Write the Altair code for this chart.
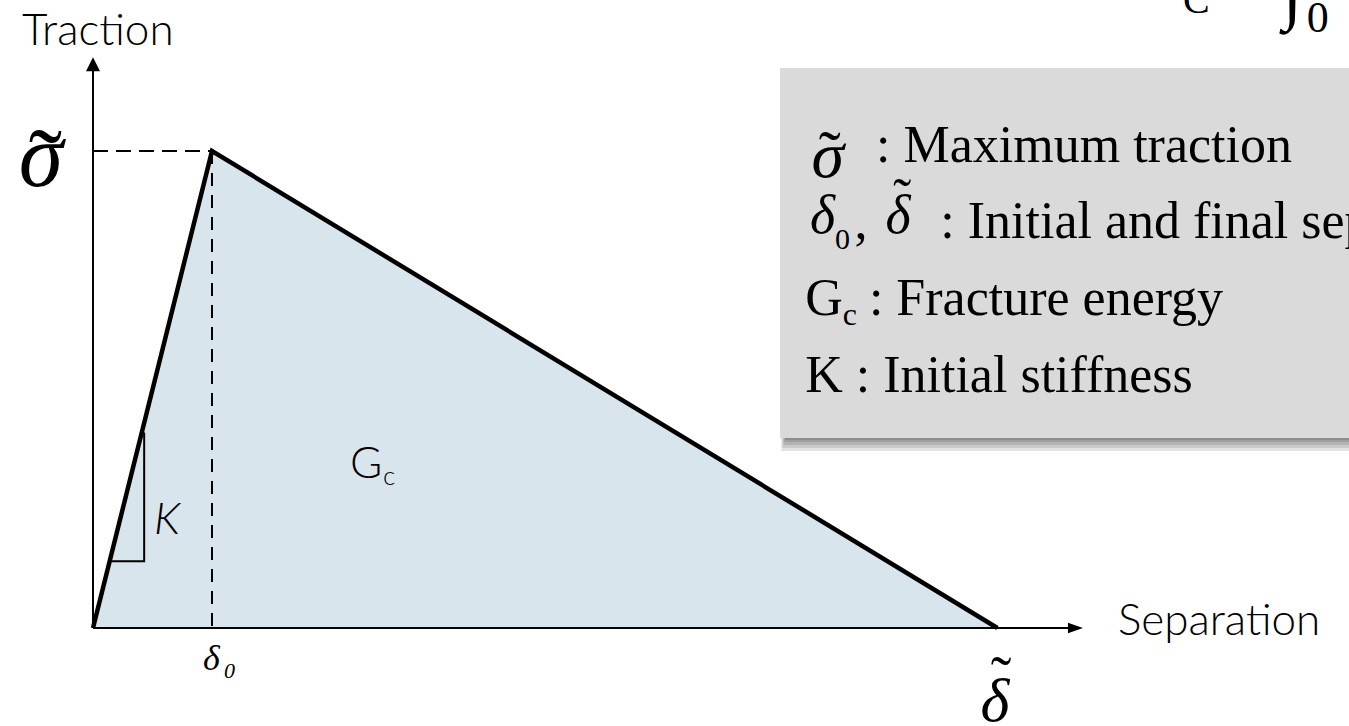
import altair as alt
import pandas as pd

# Bilinear cohesive (traction-separation) law, normalised units
DELTA_0 = 1.0        # separation at peak traction
DELTA_F = 7.6        # final separation
SIGMA_MAX = 1.0      # maximum traction

law_x = [0.0, DELTA_0, DELTA_F]
law_y = [0.0, SIGMA_MAX, 0.0]

# axis extents (arrow tips)
X_AXIS_END = 8.256
Y_AXIS_END = 1.182

# slope triangle marking the initial stiffness K
k_tri_x = [0.14, 0.43, 0.43]
k_tri_y = [0.14, 0.14, 0.41]

# legend entries
legend_lines = [
    ": Maximum traction",
    ": Initial and final separation",
    ": Fracture energy",
    "K : Initial stiffness",
]

X_DOMAIN = [-0.7815, 10.5546]
Y_DOMAIN = [-0.2055, 1.3166]

SERIF = "Liberation Serif"
SANS = "Lato"


def xq(field):
    return alt.X(field, type="quantitative",
                 scale=alt.Scale(domain=X_DOMAIN, nice=False, zero=False), axis=None)


def yq(field):
    return alt.Y(field, type="quantitative",
                 scale=alt.Scale(domain=Y_DOMAIN, nice=False, zero=False), axis=None)


def x2q(field):
    return alt.X2(field)


def y2q(field):
    return alt.Y2(field)


def text_layer(xs, ys, labels, size, font=SERIF, style="normal", align="left",
               dx=0, dy=0, weight="normal"):
    df = pd.DataFrame({"x": xs, "y": ys, "t": labels})
    return alt.Chart(df).mark_text(
        font=font, fontSize=size, fontStyle=style, align=align,
        baseline="alphabetic", dx=dx, dy=dy, fontWeight=weight, color="black"
    ).encode(x=xq("x"), y=yq("y"), text="t:N")


def rect_layer(x1, x2, y1, y2, color, opacity=1.0):
    df = pd.DataFrame({"x": [x1], "x2": [x2], "y": [y1], "y2": [y2]})
    return alt.Chart(df).mark_rect(color=color, opacity=opacity).encode(
        x=xq("x"), x2=x2q("x2"), y=yq("y"), y2=y2q("y2"))


law = pd.DataFrame({"x": law_x, "y": law_y, "o": [0, 1, 2]})

fill = alt.Chart(law).mark_area(color="#d9e5ec", opacity=1).encode(
    x=xq("x"), y=yq("y"), order="o:Q")

outline = alt.Chart(law).mark_line(color="black", strokeWidth=4.5, strokeJoin="miter").encode(
    x=xq("x"), y=yq("y"), order="o:Q")

# axes
axes_df = pd.DataFrame({
    "x": [0.0, 0.0], "x2": [X_AXIS_END, 0.0],
    "y": [0.0, 0.0], "y2": [0.0, Y_AXIS_END],
})
axes = alt.Chart(axes_df).mark_rule(color="black", strokeWidth=2).encode(
    x=xq("x"), x2=x2q("x2"), y=yq("y"), y2=y2q("y2"))

up_head = alt.Chart(pd.DataFrame({"x": [0.0], "y": [Y_AXIS_END]})).mark_point(
    shape="M0,-1L1,1L-1,1Z", size=196, filled=True, color="black", opacity=1, strokeWidth=0
).encode(x=xq("x"), y=yq("y"))

right_head = alt.Chart(pd.DataFrame({"x": [X_AXIS_END], "y": [0.0]})).mark_point(
    shape="M1,0L-1,0.7L-1,-0.7Z", size=225, filled=True, color="black", opacity=1, strokeWidth=0
).encode(x=xq("x"), y=yq("y"))

# dashed guides to the peak
dash_h = alt.Chart(pd.DataFrame({"x": [0.0], "x2": [DELTA_0], "y": [SIGMA_MAX]})).mark_rule(
    color="black", strokeWidth=2.2, strokeDash=[15, 8]
).encode(x=xq("x"), x2=x2q("x2"), y=yq("y"))

dash_v = alt.Chart(pd.DataFrame({"x": [DELTA_0], "y": [0.0], "y2": [SIGMA_MAX]})).mark_rule(
    color="black", strokeWidth=2, strokeDash=[13, 9]
).encode(x=xq("x"), y=yq("y2"), y2=y2q("y"))

k_df = pd.DataFrame({"x": k_tri_x, "y": k_tri_y, "o": [0, 1, 2]})
k_tri = alt.Chart(k_df).mark_line(color="black", strokeWidth=2).encode(
    x=xq("x"), y=yq("y"), order="o:Q")

# legend box with a soft drop shadow
BOX_X1, BOX_X2 = 5.773, X_DOMAIN[1]
BOX_TOP, BOX_BOTTOM = 1.174, 0.3983
shadows = [
    rect_layer(BOX_X1 + 0.05 - k * 0.003, BOX_X2, BOX_TOP - 0.01, BOX_BOTTOM - k * 0.0021, "#000000", 0.11)
    for k in (13, 10, 7, 4, 2)
]
box = rect_layer(BOX_X1, BOX_X2, BOX_TOP, BOX_BOTTOM, "#dadada")

layers = [fill, dash_v, dash_h, k_tri, outline, axes, up_head, right_head] + shadows + [box]

# axis titles
layers.append(text_layer([-0.597], [1.2222], ["Traction"], 44, font=SANS, weight=300))
layers.append(text_layer([8.613], [-0.0147], ["Separation"], 44, font=SANS, weight=300))

# symbols on the axes
layers.append(text_layer([-0.437], [0.9266], ["σ"], 90, style="italic", align="center"))
layers.append(text_layer([-0.40], [0.9266], ["˜"], 100, align="center", dy=11))
layers.append(text_layer([0.924], [-0.088], ["δ"], 36, style="italic"))
layers.append(text_layer([1.10], [-0.1048], ["0"], 22, style="italic"))
layers.append(text_layer([7.58], [-0.195], ["δ"], 62, style="italic", align="center"))
layers.append(text_layer([7.63], [-0.195], ["˜"], 62, align="center", dy=-22))

# labels inside the diagram
layers.append(text_layer([0.5126], [0.197], ["K"], 44, font=SANS, style="italic", weight=300))
layers.append(text_layer([2.16], [0.3145], ["G"], 44, font=SANS, weight=300))
layers.append(text_layer([2.437], [0.2998], ["c"], 26, font=SANS, weight=300))

# legend text
LEG = 52
layers.append(text_layer([6.175], [0.9455], ["σ"], 66, style="italic", align="center"))
layers.append(text_layer([6.19], [0.9455], ["˜"], 66, align="center", dy=-1))
layers.append(text_layer([6.58], [0.9769], [legend_lines[0]], LEG))

layers.append(text_layer([6.13], [0.8281], ["δ"], 54, style="italic", align="center"))
layers.append(text_layer([6.235], [0.7945], ["0"], 30))
layers.append(text_layer([6.40], [0.8176], [","], LEG))
layers.append(text_layer([6.765], [0.8281], ["δ"], 54, style="italic", align="center"))
layers.append(text_layer([6.80], [0.8281], ["˜"], 54, align="center", dy=-17))
layers.append(text_layer([7.12], [0.8176], [legend_lines[1]], LEG))

layers.append(text_layer([5.985], [0.6562], ["G"], LEG))
layers.append(text_layer([6.30], [0.6352], ["c"], 32))
layers.append(text_layer([6.52], [0.6562], [legend_lines[2]], LEG))

layers.append(text_layer([5.985], [0.4948], [legend_lines[3]], LEG))

# fracture-energy integral running off the top edge
layers.append(text_layer([9.16], [1.2893], ["C"], 40))
layers.append(text_layer([10.0], [1.283], ["∫"], 70))
layers.append(text_layer([10.2], [1.2495], ["0"], 44))

chart = alt.layer(*layers).properties(
    width=1349, height=726, padding=0,
    autosize=alt.AutoSizeParams(type="none"),
    background="white",
).configure_view(stroke=None)

chart.save("out.html", embed_options={"renderer": "svg", "actions": False})
